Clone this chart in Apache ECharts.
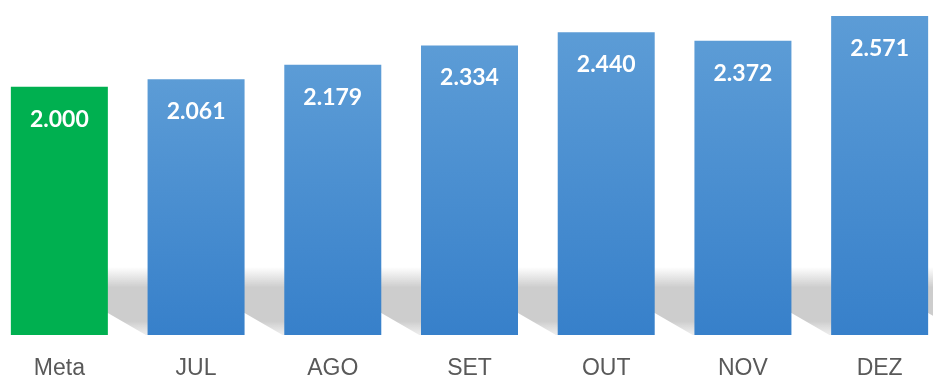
<!DOCTYPE html>
<html>
<head>
<meta charset="utf-8">
<script src="https://cdn.jsdelivr.net/npm/echarts@6/dist/echarts.min.js"></script>
<style>
  html, body { margin: 0; padding: 0; background: #fff; }
  #wrap { position: relative; width: 933px; height: 380px; overflow: hidden; }
  /* plot is a little wider than the window so the outer bars touch the edges */
  #chart { position: absolute; left: -9px; top: 0; width: 957px; height: 380px; }
</style>
</head>
<body>
<div id="wrap"><div id="chart"></div></div>
<script>
const categories = ['Meta', 'JUL', 'AGO', 'SET', 'OUT', 'NOV', 'DEZ'];
const values = [2.000, 2.061, 2.179, 2.334, 2.440, 2.372, 2.571];
const targetIndex = 0; // "Meta" bar is drawn green

const BAR_W = 97;

const blueFill = new echarts.graphic.LinearGradient(0, 0, 0, 1, [
  { offset: 0, color: '#5c9cd6' },
  { offset: 1, color: '#3780ca' }
]);

// soft grey floor shadow to the right of every bar
function renderShadow(params, api) {
  const base = api.coord([api.value(0), 0]);
  const x1 = base[0] + BAR_W / 2;
  const y = base[1];
  return {
    type: 'polygon',
    shape: {
      points: [
        [x1 - 20, y - 68],
        [x1 + 42, y - 68],
        [x1 + 42, y],
        [x1 + 38, y],
        [x1, y - 22],
        [x1 - 20, y - 22]
      ]
    },
    style: {
      fill: new echarts.graphic.LinearGradient(0, 0, 0, 1, [
        { offset: 0, color: 'rgba(205,205,205,0)' },
        { offset: 0.3, color: 'rgba(205,205,205,1)' },
        { offset: 0.8, color: 'rgba(205,205,205,1)' },
        { offset: 1, color: 'rgba(225,225,225,0.6)' }
      ])
    }
  };
}

const chart = echarts.init(document.getElementById('chart'));
chart.setOption({
  animation: false,
  grid: { left: 0, right: 0, top: -1, bottom: 42 },
  xAxis: {
    type: 'category',
    data: categories,
    axisLine: { show: false },
    axisTick: { show: false },
    axisLabel: {
      margin: 22,
      fontSize: 23,
      color: '#595959',
      fontFamily: 'Liberation Sans'
    }
  },
  yAxis: {
    type: 'value',
    min: 0,
    max: 2.7,
    show: false,
    splitLine: { show: false }
  },
  series: [
    {
      type: 'custom',
      renderItem: renderShadow,
      data: values.map((v, i) => [i, v]),
      encode: { x: 0, y: 1 },
      silent: true,
      z: 1
    },
    {
      type: 'bar',
      barWidth: BAR_W,
      z: 2,
      data: values.map((v, i) => ({
        value: v,
        itemStyle: { color: i === targetIndex ? '#00b050' : blueFill }
      })),
      label: {
        show: true,
        position: 'insideTop',
        distance: 21,
        color: '#fff',
        fontSize: 23,
        fontWeight: 'bold',
        fontFamily: 'Lato',
        formatter: (p) => p.value.toFixed(3)
      }
    }
  ]
});
</script>
</body>
</html>
